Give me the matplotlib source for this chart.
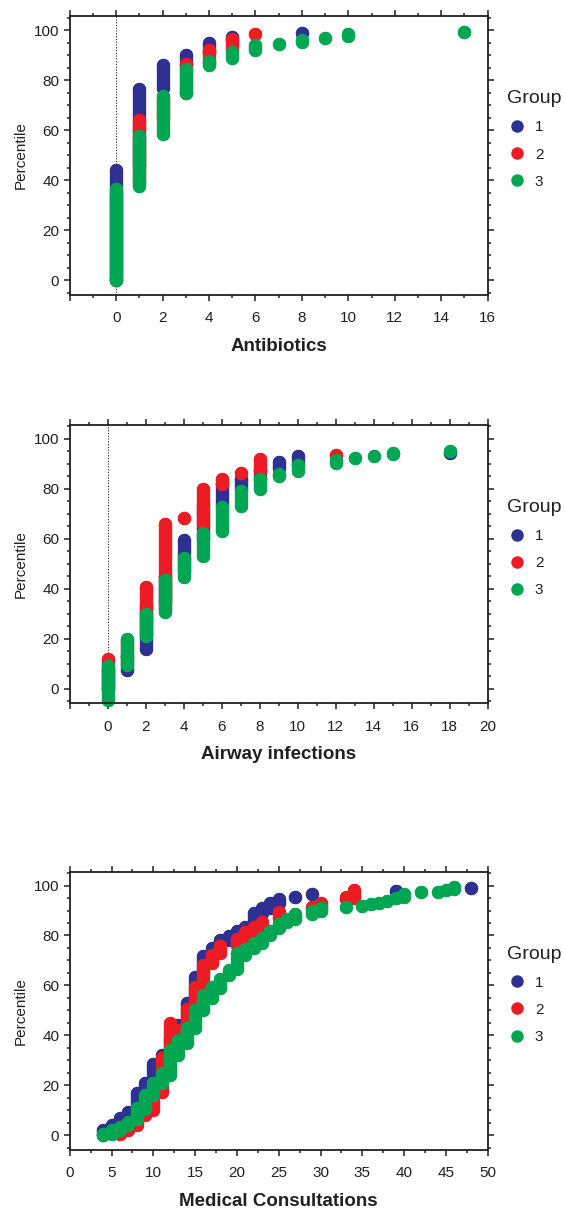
# %%
from matplotlib import pyplot as plt
from matplotlib.lines import Line2D
from matplotlib.ticker import MultipleLocator, FuncFormatter

plt.rcParams['font.family'] = ['Liberation Sans', 'DejaVu Sans']

# %% CONSTANTS
BLUE = '#2E3192'
RED = '#ED1C24'
GREEN = '#00A651'
INK = '#231F20'
DOT = 9.6          # marker diameter in points
GROUPS = ['1', '2', '3']

# %% Antibiotics: per group, x value and the percentile range of its stack
ab_g1_x = [0, 1, 2, 3, 4, 5, 8]
ab_g1_lo = [0, 46, 77, 86, 91, 96, 98.8]
ab_g1_hi = [44, 76.5, 86, 90.3, 95, 97.5, 98.8]

ab_g2_x = [0, 1, 2, 3, 4, 5, 6]
ab_g2_lo = [0, 39, 65, 75, 87, 92, 98.5]
ab_g2_hi = [34, 64, 72, 86.5, 92.3, 96.4, 98.5]

ab_g3_x = [0, 1, 2, 3, 4, 5, 6, 7, 8, 9, 10, 15]
ab_g3_lo = [0, 37.7, 58.5, 75, 86, 89, 92, 94.7, 95.5, 97.1, 97.8, 99.3]
ab_g3_hi = [36.5, 57.5, 73.6, 84.5, 87.6, 91.2, 94, 94.7, 96, 97.1, 98.5, 99.3]

# %% Airway infections
aw_g1_x = [0, 1, 2, 3, 4, 5, 6, 7, 8, 9, 10, 18]
aw_g1_lo = [0, 7.4, 16, 35, 47, 60, 74, 80, 84, 88.5, 90, 94.3]
aw_g1_hi = [8, 13, 33.4, 45, 59.4, 74, 82, 84, 87.5, 90.8, 93, 94.3]

aw_g2_x = [0, 1, 2, 3, 4, 5, 6, 7, 8, 12]
aw_g2_lo = [0, 13, 22, 32, 68.5, 66, 82, 86.4, 87, 93.7]
aw_g2_hi = [11.8, 19, 40.7, 66, 68.5, 80, 84, 86.4, 92, 93.7]

aw_g3_x = [0, 1, 2, 3, 4, 5, 6, 7, 8, 9, 10, 12, 13, 14, 15, 18]
aw_g3_lo = [-4.5, 9.6, 21, 30.6, 44.6, 53.3, 63, 73, 80, 85.3, 87.1, 90.4,
            92.5, 93.3, 93.8, 95]
aw_g3_hi = [9, 19.8, 29.8, 43.4, 52.3, 62.4, 72.8, 79.2, 84.1, 86.1, 89.5,
            91.5, 92.5, 93.3, 94.4, 95]

# %% Medical consultations
mc_g1_x = [4, 5, 6, 7, 8, 9, 10, 11, 12, 13, 14, 15, 16, 17, 18, 19, 20, 21,
           22, 23, 24, 25, 27, 29, 39, 48]
mc_g1_lo = [0, 3, 5, 8, 11, 18, 21, 28, 33, 40, 45, 54, 65, 72, 76, 78, 80,
            82, 84, 89, 91, 93, 95.5, 96.5, 98, 99]
mc_g1_hi = [2, 4, 7, 9.5, 17, 21, 28.5, 32, 39, 44, 53, 63.5, 71.6, 75, 78,
            79.6, 82, 83.6, 89, 91, 93, 94.5, 95.5, 96.8, 98, 99]

mc_g2_x = [6, 7, 8, 9, 10, 11, 12, 13, 14, 15, 16, 17, 18, 20, 21, 22, 23,
           25, 29, 30, 33, 34]
mc_g2_lo = [0.5, 2, 4, 8, 10, 17.5, 33, 40, 45, 52, 60, 69, 73, 76, 79, 82,
            84, 87, 90.5, 91.5, 94.5, 95]
mc_g2_hi = [1, 3, 5, 9, 16.5, 31, 44.9, 42, 50.5, 59.5, 68, 72, 75.6, 78.5,
            81.5, 83.6, 85.6, 89.6, 91.5, 93, 95.6, 98.3]

mc_g3_x = [4, 5, 6, 7, 8, 9, 10, 11, 12, 13, 14, 15, 16, 17, 18, 19, 20, 21,
           22, 23, 24, 25, 26, 27, 29, 30, 33, 35, 36, 37, 38, 39, 40, 42, 44,
           45, 46]
mc_g3_lo = [0, 0.5, 2, 4, 6.5, 10.5, 16, 21, 24, 32, 37, 43, 50, 55, 59, 64,
            66.5, 72, 75, 77, 80, 83, 85.5, 86.5, 88.5, 90, 91.5, 91.8, 92.5,
            93.2, 94, 95, 95.5, 97.3, 97.6, 98.2, 98.5]
mc_g3_hi = [0.5, 2, 3.5, 5.5, 11, 16, 21, 25, 34, 38, 43, 50, 56, 59.5, 62.5,
            66, 73, 74.5, 77, 79, 82, 84.5, 86.5, 88.5, 90, 91, 91.5, 91.8,
            92.5, 93.2, 94, 95, 96.5, 97.3, 97.6, 98.2, 99.5]


#%% Functions
def draw_stacks(ax, xs, lows, highs, color):
    """One vertical run of dots per x value, from low to high percentile."""
    for x, lo, hi in zip(xs, lows, highs):
        ax.plot([x, x], [lo, hi], color=color, lw=DOT, solid_capstyle='round',
                marker='o', ms=DOT, mew=0, clip_on=False)


def style_panel(ax, xlim, major, minor, xlabel, zero_line=True):
    ax.set_xlim(*xlim)
    ax.set_ylim(-5.8, 105.6)
    if zero_line:
        ax.axvline(0, color=INK, lw=0.8, ls=(0, (1, 1.5)), zorder=0)
    ax.xaxis.set_major_locator(MultipleLocator(major))
    ax.xaxis.set_minor_locator(MultipleLocator(minor))
    ax.yaxis.set_major_locator(MultipleLocator(20))
    ax.yaxis.set_minor_locator(MultipleLocator(5))
    ax.xaxis.set_major_formatter(
        FuncFormatter(lambda v, p: '' if v < 0 else f'{v:g}'))
    ax.tick_params(which='both', direction='out', top=True, right=True,
                   color=INK, labelcolor=INK, width=1.1)
    ax.tick_params(which='major', length=4.5, labelsize=11)
    ax.tick_params(which='minor', length=2.5)
    ax.tick_params(axis='x', which='major', pad=7.5)
    ax.tick_params(axis='y', which='major', pad=3)
    for sp in ax.spines.values():
        sp.set_color(INK)
        sp.set_linewidth(1.3)
    ax.set_ylabel('Percentile', fontsize=11, color=INK)
    ax.yaxis.set_label_coords(-0.10, 0.5)
    ax.set_xlabel(xlabel, fontsize=13.5, fontweight='bold', color=INK)
    ax.xaxis.set_label_coords(0.5, -0.155)

    handles = [Line2D([], [], ls='', marker='o', ms=9, mew=0, color=c)
               for c in (BLUE, RED, GREEN)]
    leg = ax.legend(handles, GROUPS, title='Group', loc='upper left',
                    bbox_to_anchor=(1.047, 0.734), frameon=False, fontsize=11,
                    title_fontsize=14, handlelength=1.2, handletextpad=0.6,
                    labelspacing=0.86, borderpad=0, borderaxespad=0,
                    alignment='left')
    for t in leg.get_texts():
        t.set_color(INK)
    leg.get_title().set_color(INK)


# %%
fig = plt.figure(figsize=(5.65, 12.09), dpi=100)
ax1 = fig.add_axes([0.1234, 0.7564, 0.7398, 0.2301])
ax2 = fig.add_axes([0.1234, 0.4184, 0.7398, 0.2301])
ax3 = fig.add_axes([0.1234, 0.0490, 0.7398, 0.2301])

draw_stacks(ax1, ab_g1_x, ab_g1_lo, ab_g1_hi, BLUE)
draw_stacks(ax1, ab_g2_x, ab_g2_lo, ab_g2_hi, RED)
draw_stacks(ax1, ab_g3_x, ab_g3_lo, ab_g3_hi, GREEN)
style_panel(ax1, (-2, 16), 2, 1, 'Antibiotics')

draw_stacks(ax2, aw_g1_x, aw_g1_lo, aw_g1_hi, BLUE)
draw_stacks(ax2, aw_g2_x, aw_g2_lo, aw_g2_hi, RED)
draw_stacks(ax2, aw_g3_x, aw_g3_lo, aw_g3_hi, GREEN)
style_panel(ax2, (-2, 20), 2, 1, 'Airway infections')

draw_stacks(ax3, mc_g1_x, mc_g1_lo, mc_g1_hi, BLUE)
draw_stacks(ax3, mc_g2_x, mc_g2_lo, mc_g2_hi, RED)
draw_stacks(ax3, mc_g3_x, mc_g3_lo, mc_g3_hi, GREEN)
style_panel(ax3, (0, 50), 5, 2.5, 'Medical Consultations', zero_line=False)

fig.savefig('out.png', dpi=100)
